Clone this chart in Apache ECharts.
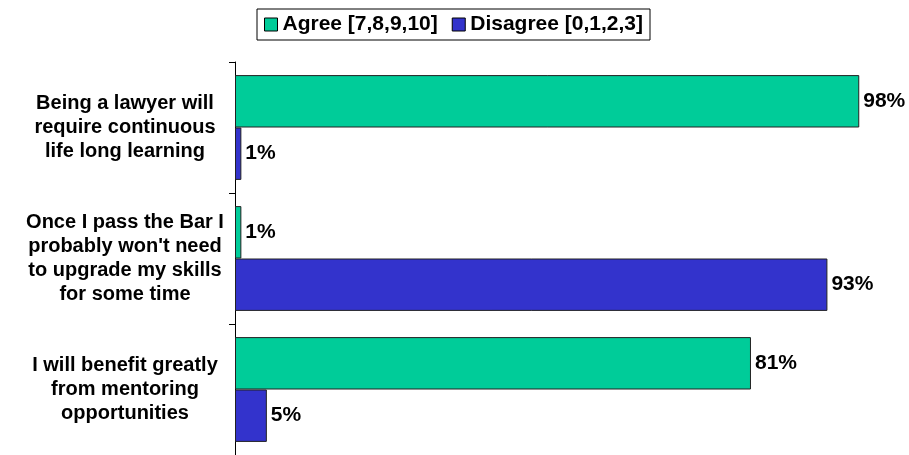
<!DOCTYPE html>
<html><head><meta charset="utf-8">
<script src="https://cdn.jsdelivr.net/npm/echarts@6/dist/echarts.min.js"></script>
<style>html,body{margin:0;padding:0;background:#fff}#c{width:909px;height:455px}</style>
</head><body><div id="c"></div>
<script>
const categories = [
  "Being a lawyer will\nrequire continuous\nlife long learning",
  "Once I pass the Bar I\nprobably won't need\nto upgrade my skills\nfor some time",
  "I will benefit greatly\nfrom mentoring\nopportunities"
];
const agree = [98, 1, 81];
const disagree = [1, 93, 5];
const seriesNames = ["Agree [7,8,9,10]", "Disagree [0,1,2,3]"];

const chart = echarts.init(document.getElementById('c'));
const font = 'Liberation Sans, Arial, sans-serif';
const lbl = {show:true, position:'right', distance:4, formatter:'{c}%', color:'#000', fontFamily:font, fontWeight:'bold', fontSize:21};
chart.setOption({
  animation:false,
  legend:{
    top:9, left:257,
    data:seriesNames,
    itemWidth:13, itemHeight:13, itemGap:14,
    borderColor:'#000', borderWidth:1, padding:[5,7,5,7],
    textStyle:{fontFamily:font, fontWeight:'bold', fontSize:21, color:'#000'},
    itemStyle:{borderColor:'#000', borderWidth:1},
    icon:'rect'
  },
  grid:{left:235, right:37, top:62, height:395, containLabel:false},
  xAxis:{type:'value', min:0, max:100, show:false},
  yAxis:{
    type:'category', inverse:true, data:categories,
    axisLine:{show:true, lineStyle:{color:'#000', width:1}},
    axisTick:{show:true, length:6, lineStyle:{color:'#000'}},
    axisLabel:{fontFamily:font, fontWeight:'bold', fontSize:20, color:'#000', lineHeight:24, margin:110, align:'center'}
  },
  series:[
    {name:seriesNames[0], type:'bar', data:agree, barGap:'0%', barCategoryGap:'20%',
     itemStyle:{color:'#00CC99', borderColor:'#222', borderWidth:1}, label:lbl},
    {name:seriesNames[1], type:'bar', data:disagree, barGap:'0%', barCategoryGap:'20%',
     itemStyle:{color:'#3333CC', borderColor:'#222', borderWidth:1}, label:lbl}
  ]
});
</script></body></html>
